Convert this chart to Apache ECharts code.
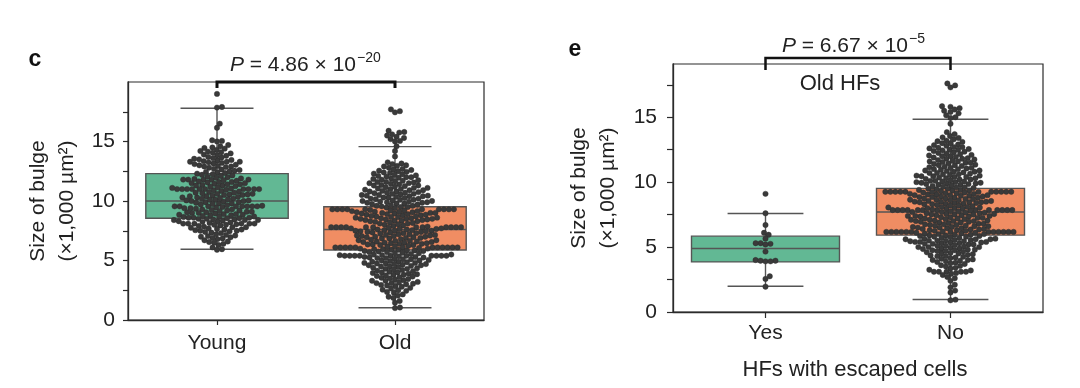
<!DOCTYPE html>
<html><head><meta charset="utf-8">
<script src="https://cdn.jsdelivr.net/npm/echarts@6/dist/echarts.min.js"></script>
<style>html,body{margin:0;padding:0;background:#fff}#c{width:1080px;height:388px}</style>
</head><body><div id="c"></div>
<script>
// ---------- data ----------
const categoriesC = ['Young', 'Old'];
const categoriesE = ['Yes', 'No'];
const yTickValues = [0, 2.5, 5, 7.5, 10, 12.5, 15, 17.5];
const yLabelValues = [0, 5, 10, 15];
const pTextC = '4.86 × 10';
const pExpC = '−20';
const pTextE = '6.67 × 10';
const pExpE = '−5';
// box statistics: [lower whisker, Q1, median, Q3, upper whisker]
const boxYoung = [5.94, 8.55, 10.0, 12.3, 17.8];
const boxOld = [1.03, 5.88, 7.6, 9.52, 14.57];
const boxYes = [1.98, 3.86, 4.89, 5.84, 7.59];
const boxNo = [0.96, 5.92, 7.7, 9.52, 14.85];

const youngValues = [19.0, 17.9, 17.85, 16.5, 16.15, 15.1, 15.05, 15.0,
 14.3,14.4,14.45,14.5,14.6,14.7,
 13.8,13.85,13.9,14.0,14.05,14.1,14.15,14.2,
 13.3,13.3,13.3,13.35,13.4,13.45,13.5,13.55,13.6,13.65,13.7,
 12.8,12.85,12.9,12.9,12.95,13.0,13.05,13.1,13.15,13.2,13.25,
 12.3,12.35,12.4,12.45,12.5,12.55,12.6,12.65,12.7,
 11.8,11.8,11.8,11.8,11.8,11.85,11.9,11.95,12.0,12.05,12.1,12.15,12.2,12.25,
 11.3,11.35,11.4,11.4,11.45,11.5,11.5,11.55,11.6,11.6,11.65,11.7,11.75,11.3,
 11.0,11.0,11.0,11.0,11.0,11.0,11.0,11.0,11.0,11.0,10.8,10.85,10.9,10.95,11.05,11.1,11.15,11.2,11.25,10.75,
 10.3,10.35,10.4,10.4,10.45,10.5,10.5,10.55,10.6,10.6,10.65,10.7,10.7,10.3,10.55,
 9.8,9.85,9.9,9.9,9.95,10.0,10.0,10.05,10.1,10.1,10.15,10.2,10.2,10.25,9.8,10.05,
 9.55,9.55,9.55,9.55,9.55,9.55,9.55,9.55,9.3,9.35,9.4,9.45,9.5,9.6,9.65,9.7,9.75,9.3,9.4,
 8.8,8.8,8.85,8.9,8.9,8.95,9.0,9.0,9.05,9.1,9.1,9.15,9.2,9.2,9.25,8.85,9.05,
 8.3,8.35,8.4,8.4,8.45,8.45,8.5,8.5,8.55,8.55,8.6,8.6,8.65,8.7,8.7,8.75,8.3,8.4,8.6,
 8.1,8.1,8.1,8.1,8.1,8.1,7.8,7.85,7.9,7.95,8.0,8.0,8.05,8.15,8.2,8.25,7.8,
 7.3,7.35,7.4,7.45,7.5,7.5,7.55,7.6,7.6,7.65,7.7,7.75,
 6.8,6.85,6.9,6.95,7.0,7.05,7.1,7.15,7.2,
 6.3,6.4,6.5,6.55,6.6,6.7,
 5.95,5.9,6.1];

const oldValues = [17.7,17.55,17.45, 15.9,15.8,15.75,15.6,15.5,15.4,15.3,15.2,15.05,15.0, 14.6,14.2,13.75,
 12.8,12.9,12.95,13.0,13.1,13.15,13.25,
 12.3,12.35,12.4,12.45,12.5,12.55,12.6,12.65,12.7,
 11.8,11.85,11.9,11.95,12.0,12.0,12.05,12.1,12.15,12.2,12.25,
 11.3,11.3,11.35,11.4,11.45,11.5,11.5,11.55,11.6,11.6,11.65,11.7,11.75,
 10.8,10.8,10.85,10.9,10.9,10.95,11.0,11.0,11.05,11.1,11.1,11.15,11.2,11.25,
 10.3,10.3,10.35,10.4,10.4,10.45,10.5,10.5,10.55,10.6,10.6,10.65,10.7,10.7,10.75,10.45,
 9.8,9.8,9.85,9.85,9.9,9.9,9.95,10.0,10.0,10.05,10.1,10.1,10.15,10.2,10.2,10.25,9.95,
 9.3,9.3,9.3,9.3,9.3,9.3,9.3,9.3,9.3,9.3,9.4,9.45,9.5,9.5,9.55,9.6,9.6,9.65,9.7,9.75,
 8.8,8.8,8.85,8.9,8.9,8.95,8.95,9.0,9.0,9.05,9.05,9.1,9.1,9.15,9.15,9.2,9.2,9.25,8.85,9.0,
 8.3,8.3,8.35,8.4,8.4,8.45,8.45,8.5,8.5,8.55,8.55,8.6,8.6,8.65,8.65,8.7,8.7,8.75,8.35,8.5,
 7.8,7.8,7.8,7.8,7.8,7.8,7.8,7.8,7.8,7.8,7.8,7.8,7.9,7.95,8.0,8.05,8.1,8.1,8.15,8.2,8.25,7.85,
 7.3,7.3,7.35,7.4,7.4,7.45,7.45,7.5,7.5,7.55,7.55,7.6,7.6,7.65,7.65,7.7,7.7,7.75,7.35,7.5,
 6.8,6.85,6.85,6.9,6.9,6.95,7.0,7.0,7.05,7.05,7.1,7.1,7.15,7.15,7.2,7.2,7.25,6.95,
 6.3,6.3,6.35,6.4,6.4,6.45,6.45,6.5,6.5,6.55,6.55,6.6,6.6,6.65,6.65,6.7,6.7,6.75,6.35,
 6.1,6.1,6.1,6.1,6.1,6.1,6.1,6.1,6.1,6.1,6.1,6.1,5.8,5.8,5.85,5.9,5.9,5.95,6.0,6.0,6.05,6.15,6.2,6.25,5.85,5.95,
 5.4,5.4,5.4,5.4,5.4,5.4,5.4,5.4,5.4,5.4,5.3,5.3,5.35,5.45,5.5,5.5,5.55,5.6,5.6,5.65,5.7,5.7,5.75,5.25,5.45,
 4.8,4.8,4.85,4.9,4.9,4.95,5.0,5.0,5.05,5.1,5.1,5.15,5.2,5.2,4.75,5.25,
 4.3,4.3,4.35,4.4,4.45,4.5,4.5,4.55,4.6,4.6,4.65,4.7,4.7,4.75,
 3.8,3.8,3.85,3.9,3.95,4.0,4.0,4.05,4.1,4.15,4.2,4.25,
 3.3,3.3,3.35,3.4,3.45,3.5,3.55,3.6,3.65,3.7,3.75,
 2.8,2.85,2.9,2.95,3.0,3.05,3.1,3.1,3.15,3.2,
 2.3,2.35,2.45,2.5,2.55,2.65,2.7,
 1.85,1.95,2.05,2.15,
 1.45,1.6,
 1.0,1.05];

const yesValues = [9.1, 7.6, 6.7, 6.1, 5.95, 5.65, 5.3, 5.3, 5.25, 5.2, 4.65,
 4.0, 3.95, 3.9, 3.95, 3.9, 2.75, 2.55, 1.95];

const noValues = [17.6,17.45,17.3, 15.85,15.8,15.7,15.6,15.5,15.4,15.3,15.15,15.0,14.95, 14.5,13.85,
 13.3,13.4,13.45,13.55,13.7,
 12.8,12.85,12.9,13.0,13.0,13.1,13.15,13.2,
 12.3,12.35,12.4,12.45,12.5,12.5,12.55,12.6,12.65,12.7,12.7,
 11.8,11.8,11.85,11.9,11.95,12.0,12.0,12.05,12.1,12.15,12.2,12.25,
 11.3,11.3,11.35,11.4,11.45,11.5,11.5,11.55,11.6,11.6,11.65,11.7,11.75,
 10.8,10.8,10.85,10.9,10.9,10.95,11.0,11.0,11.05,11.1,11.1,11.15,11.2,11.25,
 10.3,10.3,10.35,10.4,10.4,10.45,10.5,10.5,10.55,10.6,10.6,10.65,10.7,10.7,10.75,10.45,
 9.8,9.8,9.85,9.85,9.9,9.9,9.95,9.95,10.0,10.0,10.05,10.1,10.1,10.15,10.2,10.2,10.25,10.05,
 9.26,9.26,9.26,9.26,9.26,9.26,9.26,9.26,9.26,9.26,9.3,9.35,9.4,9.4,9.45,9.5,9.5,9.55,9.6,9.6,9.65,9.7,9.75,9.35,
 8.8,8.8,8.85,8.85,8.9,8.9,8.95,8.95,9.0,9.0,9.05,9.05,9.1,9.1,9.15,9.15,9.2,9.2,9.25,9.25,9.0,
 8.3,8.3,8.35,8.35,8.4,8.4,8.45,8.45,8.5,8.5,8.55,8.55,8.6,8.6,8.65,8.65,8.7,8.7,8.75,8.75,8.5,8.45,
 7.85,7.85,7.85,7.85,7.85,7.85,7.85,7.85,7.85,7.85,7.85,7.85,7.85,
 7.8,7.9,7.95,8.0,8.0,8.05,8.05,8.1,8.1,8.15,8.2,8.2,8.25,7.95,
 7.3,7.3,7.35,7.35,7.4,7.4,7.45,7.45,7.5,7.5,7.55,7.55,7.6,7.6,7.65,7.65,7.7,7.7,7.75,7.75,7.5,7.4,
 6.8,6.8,6.85,6.9,6.9,6.95,6.95,7.0,7.0,7.05,7.05,7.1,7.1,7.15,7.15,7.2,7.2,7.25,7.25,7.0,
 6.3,6.3,6.35,6.35,6.4,6.4,6.45,6.45,6.5,6.5,6.55,6.55,6.6,6.6,6.65,6.65,6.7,6.7,6.75,6.75,
 6.17,6.17,6.17,6.17,6.17,6.17,6.17,6.17,6.17,6.17,6.17,6.17,6.17,
 5.8,5.8,5.85,5.85,5.9,5.9,5.95,5.95,6.0,6.0,6.05,6.05,6.1,6.2,6.25,6.25,6.1,
 5.3,5.3,5.35,5.35,5.4,5.4,5.45,5.45,5.5,5.5,5.55,5.55,5.6,5.6,5.65,5.65,5.7,5.7,5.75,5.25,5.5,5.6,5.4,
 4.8,4.8,4.85,4.9,4.9,4.95,5.0,5.0,5.05,5.1,5.1,5.15,5.2,5.2,4.75,5.25,5.0,
 4.3,4.3,4.35,4.4,4.45,4.5,4.5,4.55,4.6,4.65,4.7,4.7,4.75,
 3.8,3.85,3.9,3.95,4.0,4.0,4.05,4.1,4.15,4.2,4.25,
 3.35,3.4,3.5,3.55,3.6,3.7,3.75,
 3.1,3.1,3.1,3.1,3.1,2.85,2.95,3.0,3.2,3.25,
 2.4,2.6,2.7,
 1.9,2.1,
 1.5,1.65,
 0.95,0.9];

// ---------- styles ----------
const FONT = '"Liberation Sans", Arial, Helvetica, sans-serif';
const TXT = '#222';
const AX = '#2b2b2b';
const BOX_COLORS = ['#62b894', '#f08d63'];
const BOX_LINE = '#555';
const DOT = '#3a3a3a';
const DOT_D = 5.0;   // collision diameter, px
const DOT_R = 2.7;

function swarm(ys, d, gutter) {
  const order = ys.map((y, i) => i).sort((a, b) => ys[b] - ys[a]);
  const placed = [];
  const off = new Array(ys.length).fill(0);
  for (const i of order) {
    const y = ys[i];
    const near = placed.filter(p => Math.abs(p.y - y) < d);
    const cands = [0];
    for (const n of near) {
      const dy = y - n.y;
      const dx = Math.sqrt(Math.max(0, d * d - dy * dy));
      cands.push(n.x + dx, n.x - dx);
    }
    cands.sort((a, b) => Math.abs(a) - Math.abs(b));
    let x = 0;
    for (const c of cands) {
      if (near.every(n => (n.x - c) * (n.x - c) + (n.y - y) * (n.y - y) >= d * d - 0.01)) { x = c; break; }
    }
    placed.push({ x, y });
    off[i] = Math.max(-gutter, Math.min(gutter, x));
  }
  return off;
}

const offsetCache = {};
function dotRenderer(key, values) {
  return function (params, api) {
    const cat = api.value(0);
    if (!offsetCache[key]) {
      const ys = values.map(v => api.coord([cat, v])[1]);
      const gutter = api.size([1, 0])[0] * 0.4;
      offsetCache[key] = swarm(ys, DOT_D, gutter);
    }
    const p = api.coord([cat, api.value(1)]);
    return {
      type: 'circle',
      shape: { cx: p[0] + offsetCache[key][params.dataIndex], cy: p[1], r: DOT_R },
      style: { fill: DOT, stroke: '#2a2a2a', lineWidth: 0.4 }
    };
  };
}

function boxRenderer(params, api) {
  const cat = api.value(0);
  const lo = api.coord([cat, api.value(1)]);
  const q1 = api.coord([cat, api.value(2)]);
  const md = api.coord([cat, api.value(3)]);
  const q3 = api.coord([cat, api.value(4)]);
  const hi = api.coord([cat, api.value(5)]);
  const band = api.size([1, 0])[0];
  const bw = band * 0.8, cw = band * 0.41;
  const x = lo[0];
  const ls = { stroke: BOX_LINE, lineWidth: 1.4 };
  return {
    type: 'group',
    children: [
      { type: 'line', shape: { x1: x, y1: q3[1], x2: x, y2: hi[1] }, style: ls },
      { type: 'line', shape: { x1: x, y1: q1[1], x2: x, y2: lo[1] }, style: ls },
      { type: 'line', shape: { x1: x - cw / 2, y1: hi[1], x2: x + cw / 2, y2: hi[1] }, style: ls },
      { type: 'line', shape: { x1: x - cw / 2, y1: lo[1], x2: x + cw / 2, y2: lo[1] }, style: ls },
      { type: 'rect', shape: { x: x - bw / 2, y: q3[1], width: bw, height: q1[1] - q3[1] },
        style: { fill: BOX_COLORS[params.dataIndex], stroke: BOX_LINE, lineWidth: 1.4 } },
      { type: 'line', shape: { x1: x - bw / 2, y1: md[1], x2: x + bw / 2, y2: md[1] }, style: ls }
    ]
  };
}

function yAxisDef(gridIndex, max, margin, tickLen) {
  return {
    type: 'value', gridIndex, min: 0, max, interval: 2.5,
    axisLine: { show: true, lineStyle: { color: AX, width: 1.3 } },
    axisTick: { show: true, length: tickLen, customValues: yTickValues, lineStyle: { color: AX, width: 1.2 } },
    axisLabel: { customValues: yLabelValues, margin, fontSize: 21, color: TXT, fontFamily: FONT,
      formatter: v => (yLabelValues.indexOf(v) >= 0 ? String(v) : '') },
    splitLine: { show: false }
  };
}
function xAxisDef(gridIndex, cats, margin, tickLen) {
  return {
    type: 'category', gridIndex, data: cats, boundaryGap: true,
    axisLine: { show: true, lineStyle: { color: AX, width: 1.3 } },
    axisTick: { show: true, alignWithLabel: true, length: tickLen, lineStyle: { color: AX, width: 1.2 } },
    axisLabel: { margin, fontSize: 21, color: TXT, fontFamily: FONT },
    splitLine: { show: false }
  };
}

const chart = echarts.init(document.getElementById('c'), null, { renderer: 'canvas' });

const option = {
  backgroundColor: '#fff',
  animation: false,
  grid: [
    { left: 128, right: 596, top: 82, bottom: 68, show: true, borderColor: AX, borderWidth: 1.2, backgroundColor: 'transparent' },
    { left: 673, right: 37, top: 64, bottom: 76, show: true, borderColor: AX, borderWidth: 1.2, backgroundColor: 'transparent' }
  ],
  xAxis: [xAxisDef(0, categoriesC, 13, 5), xAxisDef(1, categoriesE, 11, 6)],
  yAxis: [yAxisDef(0, 20, 13, 5), yAxisDef(1, 19.1, 16, 6)],
  series: [
    { type: 'custom', xAxisIndex: 0, yAxisIndex: 0, renderItem: boxRenderer, z: 2,
      data: [[0].concat(boxYoung), [1].concat(boxOld)] },
    { type: 'custom', xAxisIndex: 1, yAxisIndex: 1, renderItem: boxRenderer, z: 2,
      data: [[0].concat(boxYes), [1].concat(boxNo)] },
    { type: 'custom', xAxisIndex: 0, yAxisIndex: 0, renderItem: dotRenderer('young', youngValues), z: 3,
      data: youngValues.map(v => [0, v]) },
    { type: 'custom', xAxisIndex: 0, yAxisIndex: 0, renderItem: dotRenderer('old', oldValues), z: 3,
      data: oldValues.map(v => [1, v]) },
    { type: 'custom', xAxisIndex: 1, yAxisIndex: 1, renderItem: dotRenderer('yes', yesValues), z: 3,
      data: yesValues.map(v => [0, v]) },
    { type: 'custom', xAxisIndex: 1, yAxisIndex: 1, renderItem: dotRenderer('no', noValues), z: 3,
      data: noValues.map(v => [1, v]) }
  ]
};
chart.setOption(option);

// ---------- annotations (positions from the axes) ----------
function txt(x, y, text, size, extra) {
  return Object.assign({
    type: 'text', x, y, z: 20,
    style: Object.assign({ text, fontSize: size, fontFamily: FONT, fill: TXT,
      align: 'center', verticalAlign: 'middle', textAlign: 'center', textVerticalAlign: 'middle' }, extra && extra.style || {})
  }, extra && extra.el || {});
}
function pText(rightX, y, main, exp) {
  return [
    { type: 'text', x: rightX, y, z: 20,
      style: { text: '{i|P} = ' + main, fontSize: 21, fontFamily: FONT, fill: TXT,
        align: 'right', verticalAlign: 'middle', textAlign: 'right', textVerticalAlign: 'middle',
        rich: { i: { fontStyle: 'italic', fontSize: 21, fontFamily: FONT, fill: TXT } } } },
    { type: 'text', x: rightX + 1, y: y - 7, z: 20,
      style: { text: exp, fontSize: 14, fontFamily: FONT, fill: TXT,
        align: 'left', verticalAlign: 'middle', textAlign: 'left', textVerticalAlign: 'middle' } }
  ];
}

const cY = chart.convertToPixel({ xAxisIndex: 0 }, 'Young');
const cO = chart.convertToPixel({ xAxisIndex: 0 }, 'Old');
const eY = chart.convertToPixel({ xAxisIndex: 1 }, 'Yes');
const eN = chart.convertToPixel({ xAxisIndex: 1 }, 'No');
const topC = chart.convertToPixel({ yAxisIndex: 0 }, 20);
const topE = chart.convertToPixel({ yAxisIndex: 1 }, 19.1);
const midC = chart.convertToPixel({ yAxisIndex: 0 }, 10);
const midE = chart.convertToPixel({ yAxisIndex: 1 }, 9.55);

const graphics = [
  txt(35, 60, 'c', 23, { style: { fontWeight: 'bold', fill: '#111' } }),
  txt(575, 50, 'e', 23, { style: { fontWeight: 'bold', fill: '#111' } }),
  { type: 'polyline', z: 20, shape: { points: [[cY, topC + 6], [cY, topC], [cO, topC], [cO, topC + 6]] },
    style: { stroke: '#111', lineWidth: 3, fill: null } },
  { type: 'polyline', z: 20, shape: { points: [[eY, topE + 6], [eY, topE - 6], [eN, topE - 6], [eN, topE + 6]] },
    style: { stroke: '#111', lineWidth: 2.5, fill: null } },
  txt(38, midC, 'Size of bulge', 21, { el: { rotation: Math.PI / 2 } }),
  txt(67, midC, '(×1,000 µm²)', 21, { el: { rotation: Math.PI / 2 } }),
  txt(579, midE, 'Size of bulge', 21, { el: { rotation: Math.PI / 2 } }),
  txt(608, midE, '(×1,000 µm²)', 21, { el: { rotation: Math.PI / 2 } }),
  txt(840, 84, 'Old HFs', 22),
  txt(855, 370, 'HFs with escaped cells', 22)
].concat(pText(356, 65, pTextC, pExpC)).concat(pText(908, 46, pTextE, pExpE));

chart.setOption({ graphic: graphics });
</script>
</body></html>
